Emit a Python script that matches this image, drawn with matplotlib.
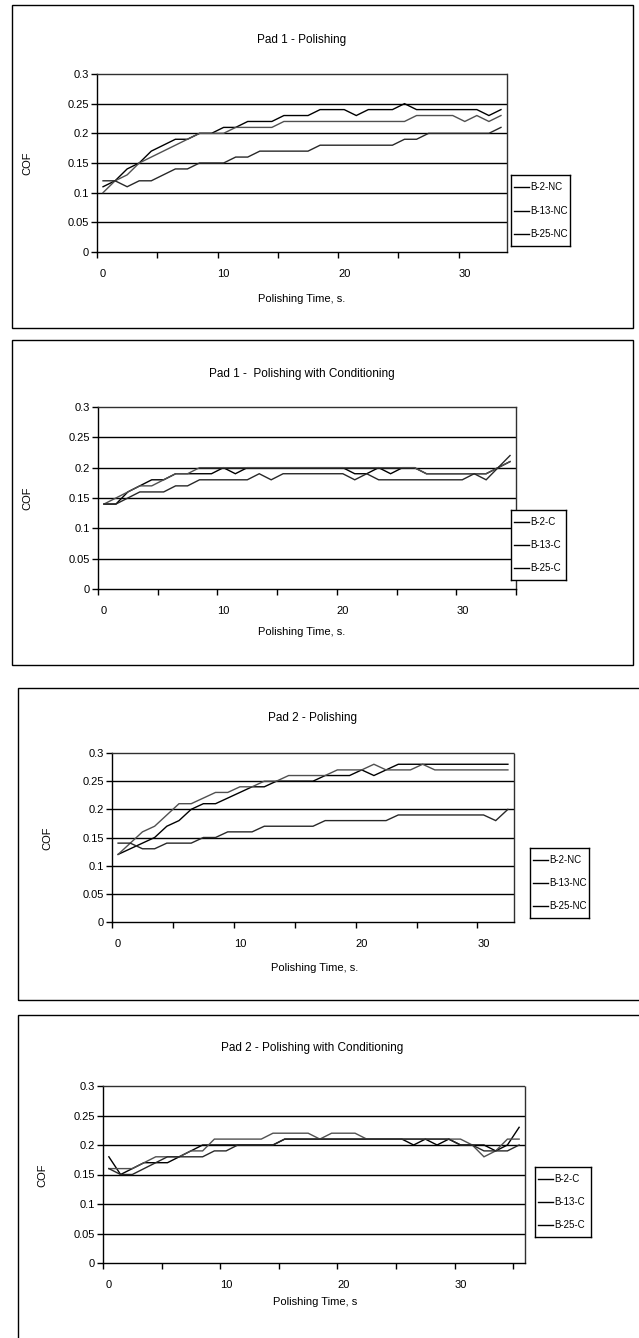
import matplotlib
matplotlib.use("Agg")
import matplotlib.pyplot as plt
from matplotlib.patches import Rectangle
from matplotlib.lines import Line2D
import numpy as np

plt.rcParams['font.family'] = ['Liberation Sans', 'DejaVu Sans']

# ---------------- data ----------------
titles = ["Pad 1 - Polishing", "Pad 1 -  Polishing with Conditioning",
          "Pad 2 - Polishing", "Pad 2 - Polishing with Conditioning"]
xlabels = ["Polishing Time, s.", "Polishing Time, s.", "Polishing Time, s.", "Polishing Time, s"]
legend_nc = ["B-2-NC", "B-13-NC", "B-25-NC"]
legend_c = ["B-2-C", "B-13-C", "B-25-C"]
x_ticklabels = ["0", "10", "20", "30"]
y_ticks = [0, 0.05, 0.1, 0.15, 0.2, 0.25, 0.3]
y_ticklabels = ["0", "0.05", "0.1", "0.15", "0.2", "0.25", "0.3"]

# Pad 1 - Polishing (34 samples)
p1_b2 = [0.11, 0.12, 0.14, 0.15, 0.17, 0.18, 0.19, 0.19, 0.20, 0.20, 0.21, 0.21,
         0.22, 0.22, 0.22, 0.23, 0.23, 0.23, 0.24, 0.24, 0.24, 0.23, 0.24, 0.24,
         0.24, 0.25, 0.24, 0.24, 0.24, 0.24, 0.24, 0.24, 0.23, 0.24]
p1_b13 = [0.10, 0.12, 0.13, 0.15, 0.16, 0.17, 0.18, 0.19, 0.20, 0.20, 0.20, 0.21,
          0.21, 0.21, 0.21, 0.22, 0.22, 0.22, 0.22, 0.22, 0.22, 0.22, 0.22, 0.22,
          0.22, 0.22, 0.23, 0.23, 0.23, 0.23, 0.22, 0.23, 0.22, 0.23]
p1_b25 = [0.12, 0.12, 0.11, 0.12, 0.12, 0.13, 0.14, 0.14, 0.15, 0.15, 0.15, 0.16,
          0.16, 0.17, 0.17, 0.17, 0.17, 0.17, 0.18, 0.18, 0.18, 0.18, 0.18, 0.18,
          0.18, 0.19, 0.19, 0.20, 0.20, 0.20, 0.20, 0.20, 0.20, 0.21]

# Pad 1 - Polishing with Conditioning (35 samples)
p2_b2 = [0.14, 0.14, 0.16, 0.17, 0.18, 0.18, 0.19, 0.19, 0.19, 0.19, 0.20, 0.19,
         0.20, 0.20, 0.20, 0.20, 0.20, 0.20, 0.20, 0.20, 0.20, 0.19, 0.19, 0.20,
         0.19, 0.20, 0.20, 0.19, 0.19, 0.19, 0.19, 0.19, 0.19, 0.20, 0.21]
p2_b13 = [0.14, 0.15, 0.16, 0.17, 0.17, 0.18, 0.19, 0.19, 0.20, 0.20, 0.20, 0.20,
          0.20, 0.20, 0.20, 0.20, 0.20, 0.20, 0.20, 0.20, 0.20, 0.20, 0.20, 0.20,
          0.20, 0.20, 0.20, 0.19, 0.19, 0.19, 0.19, 0.19, 0.19, 0.20, 0.21]
p2_b25 = [0.14, 0.14, 0.15, 0.16, 0.16, 0.16, 0.17, 0.17, 0.18, 0.18, 0.18, 0.18,
          0.18, 0.19, 0.18, 0.19, 0.19, 0.19, 0.19, 0.19, 0.19, 0.18, 0.19, 0.18,
          0.18, 0.18, 0.18, 0.18, 0.18, 0.18, 0.18, 0.19, 0.18, 0.20, 0.22]

# Pad 2 - Polishing (33 samples)
p3_b2 = [0.12, 0.13, 0.14, 0.15, 0.17, 0.18, 0.20, 0.21, 0.21, 0.22, 0.23, 0.24,
         0.24, 0.25, 0.25, 0.25, 0.25, 0.26, 0.26, 0.26, 0.27, 0.26, 0.27, 0.28,
         0.28, 0.28, 0.28, 0.28, 0.28, 0.28, 0.28, 0.28, 0.28]
p3_b13 = [0.12, 0.14, 0.16, 0.17, 0.19, 0.21, 0.21, 0.22, 0.23, 0.23, 0.24, 0.24,
          0.25, 0.25, 0.26, 0.26, 0.26, 0.26, 0.27, 0.27, 0.27, 0.28, 0.27, 0.27,
          0.27, 0.28, 0.27, 0.27, 0.27, 0.27, 0.27, 0.27, 0.27]
p3_b25 = [0.14, 0.14, 0.13, 0.13, 0.14, 0.14, 0.14, 0.15, 0.15, 0.16, 0.16, 0.16,
          0.17, 0.17, 0.17, 0.17, 0.17, 0.18, 0.18, 0.18, 0.18, 0.18, 0.18, 0.19,
          0.19, 0.19, 0.19, 0.19, 0.19, 0.19, 0.19, 0.18, 0.20]

# Pad 2 - Polishing with Conditioning (36 samples)
p4_b2 = [0.18, 0.15, 0.16, 0.17, 0.17, 0.17, 0.18, 0.19, 0.20, 0.20, 0.20, 0.20,
         0.20, 0.20, 0.20, 0.21, 0.21, 0.21, 0.21, 0.21, 0.21, 0.21, 0.21, 0.21,
         0.21, 0.21, 0.20, 0.21, 0.20, 0.21, 0.20, 0.20, 0.20, 0.19, 0.20, 0.23]
p4_b13 = [0.16, 0.16, 0.16, 0.17, 0.18, 0.18, 0.18, 0.19, 0.19, 0.21, 0.21, 0.21,
          0.21, 0.21, 0.22, 0.22, 0.22, 0.22, 0.21, 0.22, 0.22, 0.22, 0.21, 0.21,
          0.21, 0.21, 0.21, 0.21, 0.21, 0.21, 0.21, 0.20, 0.18, 0.19, 0.21, 0.21]
p4_b25 = [0.16, 0.15, 0.15, 0.16, 0.17, 0.18, 0.18, 0.18, 0.18, 0.19, 0.19, 0.20,
          0.20, 0.20, 0.20, 0.21, 0.21, 0.21, 0.21, 0.21, 0.21, 0.21, 0.21, 0.21,
          0.21, 0.21, 0.21, 0.21, 0.21, 0.21, 0.20, 0.20, 0.19, 0.19, 0.19, 0.20]

panels = [
    (titles[0], xlabels[0], legend_nc, [p1_b2, p1_b13, p1_b25]),
    (titles[1], xlabels[1], legend_c, [p2_b2, p2_b13, p2_b25]),
    (titles[2], xlabels[2], legend_nc, [p3_b2, p3_b13, p3_b25]),
    (titles[3], xlabels[3], legend_c, [p4_b2, p4_b13, p4_b25]),
]

# ---------------- layout (pixels) ----------------
W, H = 639, 1338
fig = plt.figure(figsize=(W / 100, H / 100), dpi=100)

frames = [(12, 5, 633, 328), (12, 340, 633, 665), (18, 688, 645, 1000), (18, 1015, 645, 1345)]
axes_px = [(97, 74, 507, 252), (98, 407, 516, 589), (112, 753, 514, 922), (103, 1086, 525, 1263)]
title_xy = [(302, 40), (302, 374), (312, 718), (312, 1048)]
xlabel_xy = [(302, 299), (302, 632), (315, 968), (315, 1302)]
ylabel_xy = [(27, 163), (27, 498), (47, 838), (42, 1175)]
legend_px = [(511, 175, 570, 246), (511, 510, 566, 580), (530, 848, 589, 918), (535, 1167, 591, 1237)]

colors = ['#000000', '#505050', '#282828']
FS = 8


def fx(x):
    return x / W


def fy(y):
    return 1 - y / H


for k, (title, xlab, names, series) in enumerate(panels):
    x0, y0, x1, y1 = frames[k]
    fig.patches.append(Rectangle((fx(x0), fy(y1)), fx(x1) - fx(x0), fy(y0) - fy(y1),
                                 transform=fig.transFigure, fill=False,
                                 edgecolor='black', linewidth=1.0))
    a0, b0, a1, b1 = axes_px[k]
    ax = fig.add_axes([fx(a0), fy(b1), fx(a1) - fx(a0), fy(b0) - fy(b1)])
    n = len(series[0])
    xs = np.arange(n)
    for s, c in zip(series, colors):
        ax.plot(xs, s, color=c, linewidth=1.0, solid_joinstyle='miter')
    ax.set_xlim(-0.5, n - 0.5)
    ax.set_ylim(0, 0.3)
    for yv in y_ticks[1:-1]:
        ax.axhline(yv, color='black', linewidth=1.0, zorder=0)
    ax.set_yticks(y_ticks)
    ax.set_yticklabels(y_ticklabels)
    ax.set_xticks([0, 10, 20, 30])
    ax.set_xticklabels(x_ticklabels)
    ax.set_xticks(np.arange(-0.5, n, 5), minor=True)
    ax.tick_params(axis='x', which='major', length=0, pad=12, labelsize=FS)
    ax.tick_params(axis='x', which='minor', length=4, width=1, direction='out')
    ax.tick_params(axis='y', length=4, width=1, direction='out', pad=2, labelsize=FS)
    for side in ['top', 'right']:
        ax.spines[side].set_linestyle((0, (1, 1)))
        ax.spines[side].set_color('#303030')
        ax.spines[side].set_linewidth(1.0)
    for side in ['left', 'bottom']:
        ax.spines[side].set_color('black')
        ax.spines[side].set_linewidth(1.0)

    fig.text(fx(title_xy[k][0]), fy(title_xy[k][1]), title, ha='center', va='center', fontsize=8.5)
    fig.text(fx(xlabel_xy[k][0]), fy(xlabel_xy[k][1]), xlab, ha='center', va='center', fontsize=FS)
    fig.text(fx(ylabel_xy[k][0]), fy(ylabel_xy[k][1]), "COF", ha='center', va='center',
             rotation=90, fontsize=FS)

    l0, m0, l1, m1 = legend_px[k]
    lax = fig.add_axes([fx(l0), fy(m1), fx(l1) - fx(l0), fy(m0) - fy(m1)])
    lax.set_xlim(0, l1 - l0)
    lax.set_ylim(m1 - m0, 0)
    lax.set_xticks([])
    lax.set_yticks([])
    for sp in lax.spines.values():
        sp.set_color('black')
        sp.set_linewidth(1.0)
    hgt = m1 - m0
    for j, name in enumerate(names):
        yy = hgt * (j + 0.5) / 3
        lax.add_line(Line2D([3, 18], [yy, yy], color='black', linewidth=1.0))
        lax.text(19, yy, name, ha='left', va='center', fontsize=7.0)

fig.savefig("out.png", dpi=100)
